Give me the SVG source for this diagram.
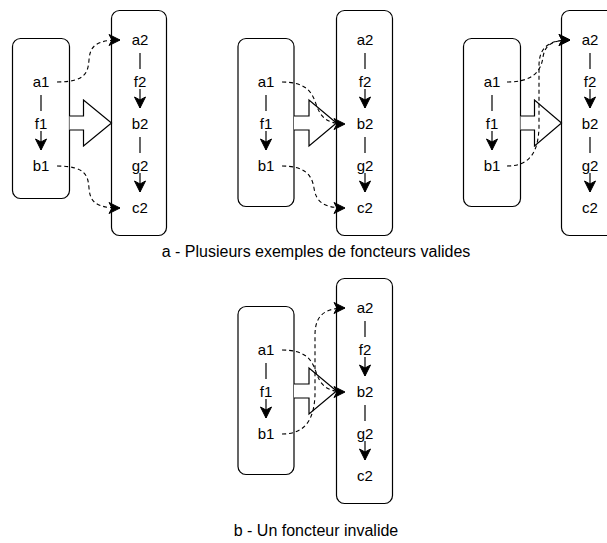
<svg xmlns="http://www.w3.org/2000/svg" width="607" height="543" viewBox="0 0 607 543">
<defs>
<marker id="arr" markerUnits="userSpaceOnUse" markerWidth="14" markerHeight="14" refX="11" refY="5.5" orient="auto" overflow="visible">
<path d="M0,0 L11,5.5 L0,11 L3,5.5 Z" fill="#000" stroke="#000" stroke-width="1"/>
</marker>
<style>
.box{fill:#fff;stroke:#000;stroke-width:1.2}
.lbl{font-family:"Liberation Sans",Arial,Helvetica,sans-serif;font-size:15px;fill:#000;text-anchor:middle}
.cap{font-family:"Liberation Sans",Arial,Helvetica,sans-serif;font-size:16px;fill:#000;text-anchor:middle}
.v{stroke:#000;stroke-width:1.2;fill:none}
.va{stroke:#000;stroke-width:1.2;fill:none;marker-end:url(#arr)}
.d{stroke:#000;stroke-width:1.1;fill:none;stroke-dasharray:4 3;marker-end:url(#arr)}
.big{fill:#fff;stroke:#000;stroke-width:1.2;stroke-linejoin:miter}
</style>
</defs>

<!-- Panel 1 -->
<g id="p1-left">
<rect class="box" x="12.5" y="38.5" width="57" height="160" rx="8"/>
<text class="lbl" x="41" y="87">a1</text>
<text class="lbl" x="41" y="129">f1</text>
<text class="lbl" x="41" y="171">b1</text>
</g>
<g id="p1-right">
<rect class="box" x="111.5" y="10.5" width="55" height="225" rx="8"/>
<text class="lbl" x="140" y="45">a2</text>
<text class="lbl" x="140" y="87">f2</text>
<text class="lbl" x="140" y="129">b2</text>
<text class="lbl" x="140" y="171">g2</text>
<text class="lbl" x="140" y="213">c2</text>
</g>
<g id="p1-functor">
<path class="big" d="M69.5,116 L83.5,116 L83.5,100 L111.5,123 L83.5,146 L83.5,130 L69.5,130"/>
</g>

<!-- Panel 2 -->
<g id="p2-left">
<rect class="box" x="238" y="38.5" width="56" height="168" rx="8"/>
<text class="lbl" x="266" y="87">a1</text>
<text class="lbl" x="266" y="129">f1</text>
<text class="lbl" x="266" y="171">b1</text>
</g>
<g id="p2-right">
<rect class="box" x="336.5" y="10.5" width="56" height="225" rx="8"/>
<text class="lbl" x="365" y="45">a2</text>
<text class="lbl" x="365" y="87">f2</text>
<text class="lbl" x="365" y="129">b2</text>
<text class="lbl" x="365" y="171">g2</text>
<text class="lbl" x="365" y="213">c2</text>
</g>
<g id="p2-functor">
<path class="big" d="M294,116 L309,116 L309,100 L336.5,123 L309,146 L309,130 L294,130"/>
</g>

<!-- Panel 3 -->
<g id="p3-left">
<rect class="box" x="463.5" y="38.5" width="57" height="168" rx="8"/>
<text class="lbl" x="492" y="87">a1</text>
<text class="lbl" x="492" y="129">f1</text>
<text class="lbl" x="492" y="171">b1</text>
</g>
<g id="p3-right">
<rect class="box" x="561.5" y="10.5" width="56" height="225" rx="8"/>
<text class="lbl" x="590" y="45">a2</text>
<text class="lbl" x="590" y="87">f2</text>
<text class="lbl" x="590" y="129">b2</text>
<text class="lbl" x="590" y="171">g2</text>
<text class="lbl" x="590" y="213">c2</text>
</g>
<g id="p3-functor">
<path class="big" d="M520.5,116 L534.5,116 L534.5,100 L561.5,123 L534.5,146 L534.5,130 L520.5,130"/>
</g>

<!-- Bottom panel -->
<g id="p4-left">
<rect class="box" x="238" y="306.5" width="56" height="168" rx="8"/>
<text class="lbl" x="266" y="355">a1</text>
<text class="lbl" x="266" y="397">f1</text>
<text class="lbl" x="266" y="439">b1</text>
</g>
<g id="p4-right">
<rect class="box" x="336.5" y="278.5" width="56" height="225" rx="8"/>
<text class="lbl" x="365" y="313">a2</text>
<text class="lbl" x="365" y="355">f2</text>
<text class="lbl" x="365" y="397">b2</text>
<text class="lbl" x="365" y="439">g2</text>
<text class="lbl" x="365" y="481">c2</text>
</g>
<g id="p4-functor">
<path class="big" d="M294,384 L309,384 L309,368 L336.5,391 L309,414 L309,398 L294,398"/>
</g>

<g id="captions">
<text class="cap" x="316" y="257">a - Plusieurs exemples de foncteurs valides</text>
<text class="cap" x="316" y="536">b - Un foncteur invalide</text>
</g>

<g id="connectors">
<!-- internal arrows panel 1 -->
<line class="v" x1="41" y1="95" x2="41" y2="111"/>
<line class="va" x1="41" y1="131" x2="41" y2="150"/>
<line class="v" x1="140" y1="53" x2="140" y2="69"/>
<line class="va" x1="140" y1="89" x2="140" y2="108"/>
<line class="v" x1="140" y1="137" x2="140" y2="153"/>
<line class="va" x1="140" y1="173" x2="140" y2="192"/>
<!-- panel 2 -->
<line class="v" x1="266" y1="95" x2="266" y2="111"/>
<line class="va" x1="266" y1="131" x2="266" y2="150"/>
<line class="v" x1="365" y1="53" x2="365" y2="69"/>
<line class="va" x1="365" y1="89" x2="365" y2="108"/>
<line class="v" x1="365" y1="137" x2="365" y2="153"/>
<line class="va" x1="365" y1="173" x2="365" y2="192"/>
<!-- panel 3 -->
<line class="v" x1="492" y1="95" x2="492" y2="111"/>
<line class="va" x1="492" y1="131" x2="492" y2="150"/>
<line class="v" x1="590" y1="53" x2="590" y2="69"/>
<line class="va" x1="590" y1="89" x2="590" y2="108"/>
<line class="v" x1="590" y1="137" x2="590" y2="153"/>
<line class="va" x1="590" y1="173" x2="590" y2="192"/>
<!-- bottom panel -->
<line class="v" x1="266" y1="363" x2="266" y2="379"/>
<line class="va" x1="266" y1="399" x2="266" y2="418"/>
<line class="v" x1="365" y1="321" x2="365" y2="337"/>
<line class="va" x1="365" y1="357" x2="365" y2="376"/>
<line class="v" x1="365" y1="405" x2="365" y2="421"/>
<line class="va" x1="365" y1="441" x2="365" y2="460"/>

<!-- dashed functor mappings -->
<path class="d" d="M57,82 C86,82 88,72 89,60 C90,46 96,40 120,40"/>
<path class="d" d="M57,166 C86,166 88,176 89,188 C90,202 96,208 120,208"/>

<path class="d" d="M282,82 C306,82 312,92 316,104 C320,116 326,124 345,124"/>
<path class="d" d="M282,166 C306,166 312,176 314,188 C316,202 324,208 345,208"/>

<path class="d" d="M507,82 C532,82 541,72 543,57 C545,45 552,40 570,40"/>
<path class="d" d="M507,166 C530,166 538,152 539,128 L539,66 C539,48 548,40 570,40"/>

<path class="d" d="M282,350 C306,350 312,360 316,372 C320,384 326,392 345,392"/>
<path class="d" d="M282,434 C305,434 314,420 315,395 L315,335 C315,316 324,308 345,308"/>
</g>
</svg>
